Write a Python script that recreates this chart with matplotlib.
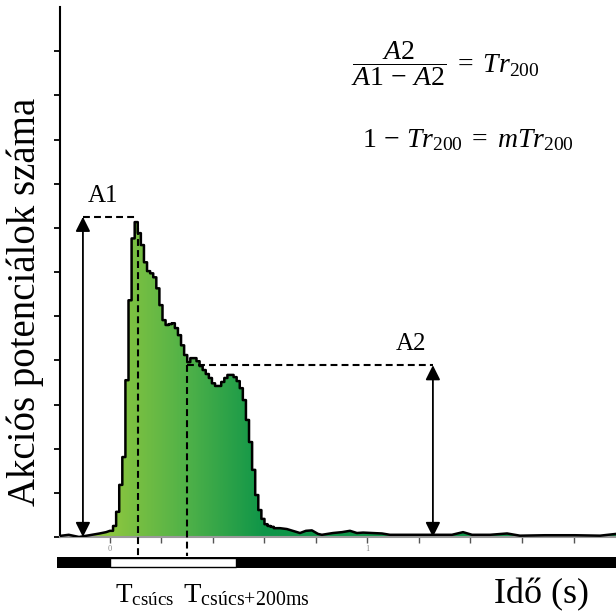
import numpy as np
import matplotlib
matplotlib.use('Agg')
import matplotlib.pyplot as plt
from matplotlib.patches import Polygon, Rectangle
from matplotlib.colors import LinearSegmentedColormap, Normalize

plt.rcParams['font.family'] = ['Liberation Serif', 'DejaVu Serif']
plt.rcParams['mathtext.fontset'] = 'custom'
plt.rcParams['mathtext.rm'] = 'Liberation Serif'
plt.rcParams['mathtext.it'] = 'Liberation Serif:italic'
plt.rcParams['mathtext.bf'] = 'Liberation Serif:bold'

# pre-stimulus baseline (s, spikes)
pre_t = [-0.20, -0.16, -0.12, -0.08, -0.04, -0.015]
pre_r = [0.02, 0.05, 0.00, 0.04, 0.08, 0.11]

# response histogram, bins of 12 ms starting at 0 s
bin_w = 0.012
resp_r = [0.14, 0.25, 0.57, 1.18, 1.81, 3.55, 5.36, 6.76, 7.13, 6.88,
          6.61, 6.22, 6.02, 5.97, 5.88, 5.63, 5.25, 4.91, 4.80, 4.82,
          4.84, 4.73, 4.57, 4.34, 4.12, 3.96, 4.05, 4.05, 3.98, 3.87,
          3.78, 3.69, 3.60, 3.48, 3.42, 3.42, 3.51, 3.60, 3.67, 3.67,
          3.62, 3.53, 3.37, 3.10, 2.65, 2.15, 1.52, 0.95, 0.61, 0.41,
          0.29, 0.25, 0.23, 0.20]

# late tail
tail_t = [0.66, 0.687, 0.738, 0.761, 0.784, 0.808, 0.823, 0.866, 0.901, 0.932,
          0.959, 0.983, 1.017, 1.056, 1.087, 1.165, 1.254, 1.328, 1.371, 1.406,
          1.476, 1.542, 1.592, 1.689, 1.806, 1.903, 1.965]
tail_r = [0.20, 0.18, 0.09, 0.14, 0.15, 0.07, 0.05, 0.09, 0.11, 0.14,
          0.09, 0.10, 0.09, 0.08, 0.05, 0.05, 0.05, 0.05, 0.11, 0.05,
          0.05, 0.08, 0.03, 0.04, 0.04, 0.03, 0.07]

t_peak = 0.107
t_peak200 = 0.30
A1 = 7.25
A2 = 3.89
stim_end = 0.49
x_ticks = [0, 0.2, 0.4, 0.6, 0.8, 1.0, 1.2, 1.4, 1.6, 1.8]
x_tick_labels = ['0', '', '', '', '', '1', '', '', '', '']

fig = plt.figure(figsize=(6.16, 6.14), dpi=100)
ax = fig.add_axes([60 / 616, 77 / 614, 556 / 616, 530 / 614])
xmin, xmax = -0.194, 1.965

# build outline
edges = np.arange(len(resp_r) + 1) * bin_w
step_x = np.repeat(edges, 2)[1:-1]
step_y = np.repeat(resp_r, 2)
xs = np.concatenate([pre_t, step_x, tail_t])
ys = np.concatenate([pre_r, step_y, tail_r])

verts = np.column_stack([np.concatenate([[xs[0]], xs, [xs[-1]]]),
                         np.concatenate([[0], ys, [0]])])
patch = Polygon(verts, closed=True, facecolor='none', edgecolor='none')
ax.add_patch(patch)

cmap = LinearSegmentedColormap.from_list('g', ['#8cc63f', '#4fb148', '#0e9548'])
grad = np.linspace(xmin, xmax, 800)[None, :]
im = ax.imshow(grad, extent=[xmin, xmax, 0, 12], aspect='auto', cmap=cmap,
               norm=Normalize(0.0, 0.6), origin='lower', zorder=1)
im.set_clip_path(patch)

ax.plot(xs, ys, color='black', lw=1.8, zorder=3, solid_joinstyle='round')

ax.set_xlim(xmin, xmax)
ax.set_ylim(0, 12)

for s in ['top', 'right']:
    ax.spines[s].set_visible(False)
ax.spines['left'].set_linewidth(1.5)
ax.spines['bottom'].set_color('#9a9a9a')
ax.spines['bottom'].set_linewidth(1.5)
ax.set_yticks(np.arange(0, 12))
ax.set_yticklabels([])
ax.tick_params(axis='y', length=4, width=1.3, color='black')
ax.set_xticks(x_ticks)
ax.set_xticklabels(x_tick_labels)
ax.tick_params(axis='x', length=4, width=1, color='#555555', labelsize=6,
               labelcolor='#888888', pad=2)

dash = (0, (3.3, 2))
# peak markers
ax.plot([t_peak, t_peak], [7.0, -0.43], color='black', lw=1.5, ls=dash, clip_on=False, zorder=4)
ax.plot([t_peak200, t_peak200], [A2, -0.43], color='black', lw=1.5, ls=dash, clip_on=False, zorder=4)
ax.plot([-0.105, 0.097], [A1, A1], color='black', lw=1.5, ls=dash, zorder=4)
ax.plot([t_peak200, 1.254], [A2, A2], color='black', lw=1.5, ls=dash, zorder=4)

# amplitude arrows
arrow = dict(arrowstyle='<|-|>', color='black', lw=1.3, mutation_scale=22,
             shrinkA=0, shrinkB=0)
ax.annotate('', xy=(-0.105, 0), xytext=(-0.105, A1), arrowprops=arrow, zorder=5)
ax.annotate('', xy=(1.254, 0), xytext=(1.254, A2), arrowprops=arrow, zorder=5)

ax.text(-0.027, 7.58, 'A1', ha='center', va='baseline', fontsize=18)
ax.text(1.169, 4.23, 'A2', ha='center', va='baseline', fontsize=18)

# stimulus bar
ax.add_patch(Rectangle((-0.206, -0.701), 2.3, 0.249, facecolor='black',
                       edgecolor='none', clip_on=False, zorder=2))
ax.add_patch(Rectangle((0, -0.675), stim_end, 0.2, facecolor='white',
                       edgecolor='black', lw=1.0, clip_on=False, zorder=3))

# formulas
ax.text(1.301, 10.72, r'$\dfrac{A2}{A1\,-\,A2}\;=\;Tr_{200}$', ha='center', va='center', fontsize=20)
ax.text(1.39, 8.98, r'$1\,-\,Tr_{200}\;=\;mTr_{200}$', ha='center', va='center', fontsize=20)

fig.text(25 / 616, (614 - 302) / 614, 'Akciós potenciálok száma', rotation=90,
         ha='center', va='center', fontsize=28)
fig.text(115 / 616, 12 / 614, r'$\mathrm{T}_{\mathrm{csúcs}}$', ha='left', va='baseline', fontsize=19.5)
fig.text(183 / 616, 12 / 614, r'$\mathrm{T}_{\mathrm{csúcs{+}200ms}}$', ha='left', va='baseline', fontsize=20.5)
fig.text(494 / 616, 11 / 614, 'Idő (s)', ha='left', va='baseline', fontsize=26)

fig.savefig('out.png', dpi=100)
